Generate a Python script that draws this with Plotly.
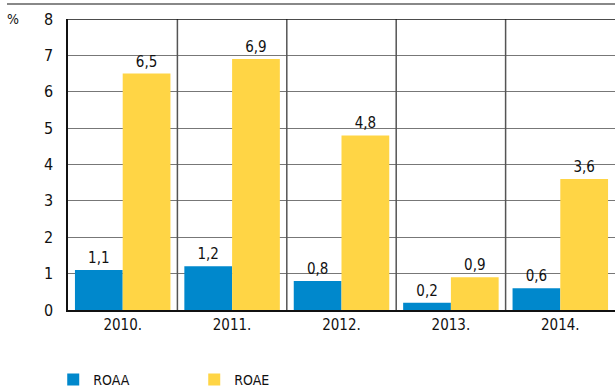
import plotly.graph_objects as go

years = ["2010.", "2011.", "2012.", "2013.", "2014."]
roaa = [1.1, 1.2, 0.8, 0.2, 0.6]
roae = [6.5, 6.9, 4.8, 0.9, 3.6]
y_ticks = [0, 1, 2, 3, 4, 5, 6, 7, 8]

FONT = "DejaVu Sans Condensed, Liberation Sans Narrow, Arial Narrow, Liberation Sans, Arial, sans-serif"
BLUE = "#0088cc"
YELLOW = "#ffd545"

def fmt(v):
    return f"{v:.1f}".replace(".", ",")

x = list(range(len(years)))

fig = go.Figure()
fig.add_trace(go.Bar(
    x=x, y=roaa, name="ROAA", marker=dict(color=BLUE, line=dict(width=0)),
    text=[fmt(v) for v in roaa], textposition="outside", cliponaxis=False,
    textfont=dict(family=FONT, size=15, color="#111"),
))
fig.add_trace(go.Bar(
    x=x, y=roae, name="ROAE", marker=dict(color=YELLOW, line=dict(width=0)),
    text=[fmt(v) for v in roae], textposition="outside", cliponaxis=False,
    textfont=dict(family=FONT, size=15, color="#111"),
))

shapes = []
for i in range(len(years) - 1):
    shapes.append(dict(type="line", xref="x", yref="y", x0=i + 0.5, x1=i + 0.5,
                       y0=0, y1=y_ticks[-1], line=dict(color="#555", width=1.5), layer="above"))
shapes.append(dict(type="line", xref="x", yref="y", x0=-0.5, x1=len(years) - 0.5,
                   y0=y_ticks[-1], y1=y_ticks[-1], line=dict(color="#111", width=1.5)))
shapes.append(dict(type="line", xref="paper", yref="paper", x0=-0.1115, x1=1.0,
                   y0=1.0515, y1=1.0515, line=dict(color="#888", width=2)))

fig.update_layout(
    width=615, height=389,
    margin=dict(l=68, r=0, t=19, b=79, autoexpand=False),
    paper_bgcolor="white", plot_bgcolor="white",
    barmode="group", bargap=0.127, bargroupgap=0,
    font=dict(family=FONT, size=14, color="#111"),
    showlegend=True,
    legend=dict(orientation="h", x=-0.027, xanchor="left", y=-0.24, yanchor="middle",
                entrywidth=96, entrywidthmode="pixels",
                font=dict(family=FONT, size=14, color="#111"),
                itemsizing="constant"),
    shapes=shapes,
    annotations=[dict(text="%", xref="paper", yref="paper", x=-0.1, y=1.0,
                      xanchor="center", yanchor="middle", showarrow=False,
                      font=dict(family=FONT, size=14, color="#111"))],
    xaxis=dict(tickvals=x, ticktext=years, range=[-0.5, len(years) - 0.5],
               showgrid=False, zeroline=False, showline=True, linecolor="#111",
               linewidth=1.5, ticks="", automargin=False, tickfont=dict(family=FONT, size=15)),
    yaxis=dict(range=[0, 8], tickvals=y_ticks, showgrid=True, gridcolor="#777",
               gridwidth=1, zeroline=False, showline=True, linecolor="#111",
               linewidth=1.5, ticks="", ticklabelstandoff=10, automargin=False,
               tickfont=dict(family=FONT, size=16)),
)

fig.write_html("out.html", config={"displayModeBar": False},
               post_script="document.body.style.margin='0';")
